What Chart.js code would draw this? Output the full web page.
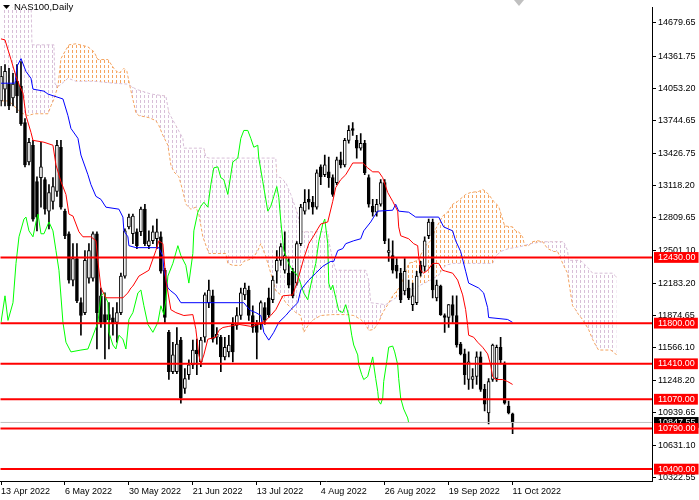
<!DOCTYPE html>
<html>
<head>
<meta charset="utf-8">
<title>NAS100,Daily</title>
<script src="https://cdn.jsdelivr.net/npm/chart.js@4.4.1/dist/chart.umd.min.js"></script>
<style>
  html, body { margin: 0; padding: 0; background: #fff; }
  #wrap { width: 699px; height: 500px; position: relative; }
</style>
</head>
<body>
<div id="wrap"><canvas id="myChart"></canvas></div>
<script>
//! Axis labels
const priceTicks = [14679.65, 14361.75, 14053.20, 13744.65, 13426.75, 13118.20, 12809.65,
  12501.10, 12183.20, 11874.65, 11566.10, 11248.20, 10939.65, 10631.10, 10322.55];
const levels = [12430, 11800, 11410, 11070, 10790, 10400];
const bidPrice = 10847.55;
const dateTicks = [0, 16, 32, 48, 64, 80, 96, 112, 128];
const dateLabels = ['13 Apr 2022', '6 May 2022', '30 May 2022', '21 Jun 2022', '13 Jul 2022',
  '4 Aug 2022', '26 Aug 2022', '19 Sep 2022', '11 Oct 2022'];

//! Candles (one per bar index)
const open = [13931,14044,14092,13959,14120,14073,13723,13346,13506,13157,
  13195,13176,12874,12968,13063,13487,12874,12657,12213,12420,
  11996,11901,12232,12232,12657,12062,11882,11882,11850,11807,
  11901,12251,12723,12657,12676,12676,12893,12543,12590,12609,
  12628,12307,11712,11335,11335,11637,11174,11306,11400,11542,
  11429,11665,11996,12062,11665,11665,11476,11524,11788,11778,
  11873,12071,12118,11873,11788,11788,11948,12043,12024,12298,
  12402,12307,12279,12298,12184,12562,12874,12987,12959,12912,
  13299,13223,13251,13195,13148,13365,13317,13553,13667,13553,
  13478,13525,13195,12921,12864,12940,13148,12477,12449,12354,
  12279,12109,12137,11977,11996,12354,12345,12638,12770,12043,
  12156,11873,11854,11977,11873,11599,11505,11259,11259,11288,
  11476,11165,10938,11259,11269,11569,11410,11004,10929];
const high = [14262,14280,14243,14195,14280,14309,13761,13572,13553,13204,
  13535,13195,13129,13195,13553,13553,12893,12676,12562,12562,
  12043,12496,12562,12676,12676,12137,12090,11996,11948,11996,
  12279,12704,12845,12845,12704,12912,12940,12685,12732,12798,
  12676,12326,11730,11617,11758,11665,11363,11448,11637,11646,
  11665,12090,12213,12118,11758,11684,11665,11684,11854,11948,
  12137,12184,12156,11967,11826,12014,11996,12137,12251,12496,
  12562,12676,12420,12326,12581,12940,13082,13082,13016,13270,
  13317,13412,13393,13223,13393,13440,13572,13695,13723,13601,
  13619,13553,13223,12987,12987,13176,13176,12609,12590,12420,
  12326,12420,12213,12184,12298,12392,12628,12798,12798,12213,
  12165,11890,11977,12062,12062,11617,11552,11524,11363,11524,
  11524,11212,11269,11599,11590,11665,11429,11052,10938];
const low = [13884,13884,13846,13884,13818,13695,13299,13317,12779,12685,
  12912,12845,12704,12893,13016,12893,12609,12184,12156,11996,
  11684,11882,12184,12203,11552,11758,11457,11552,11684,11617,
  11882,12232,12704,12562,12515,12638,12543,12515,12562,12515,
  12279,11807,11259,11316,11316,11033,11127,11259,11363,11306,
  11382,11617,11948,11617,11599,11335,11448,11476,11429,11740,
  11835,12024,11826,11712,11457,11740,11788,11854,11996,12184,
  12354,12279,12137,12043,12165,12543,12845,12893,12845,12893,
  13129,13204,13101,13016,13129,13289,13299,13525,13601,13383,
  13459,13223,12912,12827,12827,12921,12562,12392,12279,12232,
  11996,12071,12024,11920,11977,12251,12298,12609,12043,12014,
  11873,11712,11758,11807,11569,11495,11212,11165,11174,11212,
  11146,10957,10834,11240,11240,11410,11023,10929,10740];
const close = [14167,14214,13884,14092,13978,13714,13317,13535,12798,12817,
  13299,12893,13053,13110,13506,12912,12638,12213,12420,12014,
  11873,12402,12496,12657,11901,11807,11807,11830,11800,11901,
  12251,12685,12817,12827,12543,12893,12562,12590,12676,12676,
  12298,11854,11335,11495,11599,11080,11269,11400,11542,11505,
  11637,12071,12118,11646,11693,11476,11569,11590,11524,11873,
  12090,12137,11873,11758,11712,11996,11826,11882,12213,12402,
  12534,12449,12165,12062,12562,12912,12959,12959,12912,13242,
  13204,13317,13195,13034,13365,13317,13553,13648,13648,13478,
  13525,13242,12940,12864,12940,13148,12590,12496,12307,12298,
  12024,12298,12043,12062,12251,12279,12590,12770,12118,12165,
  11882,11854,11977,11873,11590,11505,11306,11429,11288,11476,
  11165,11023,11240,11590,11569,11448,11033,10938,10847.55];

//! Ichimoku lines as [bar, price]
const tenkan = [[0,14526],[1,14516],[2.5,14328],[3.75,14167],[4.5,14092],[5.5,14007],[6.25,13790],[7.5,13629],[8,13553],[10.75,13535],[13,13506],[13.75,13317],[15,13157],[16.25,13034],[17,12845],[18,12827],[19.5,12676],[20.5,12628],[22.5,12628],[23.75,12590],[24.25,12392],[25,12137],[26.25,12043],[30.5,12043],[31.75,12090],[32.5,12137],[33,12156],[34.5,12251],[37,12307],[38.75,12496],[39.5,12590],[40.5,12562],[41.25,12213],[42.5,11929],[43.75,11901],[45.75,11873],[48,11882],[48.75,11740],[49.5,11495],[50,11410],[50.75,11495],[51.75,11646],[53.75,11665],[54.5,11730],[55.5,11758],[57,11769],[59.5,11788],[62.5,11769],[64.5,11788],[66.25,11826],[67.5,11873],[68.75,11929],[70.5,12062],[73,12071],[74.25,12213],[75.75,12420],[77,12562],[78.25,12638],[79.25,12704],[80,12751],[81.75,12770],[83,12968],[83.75,13101],[85,13176],[86.25,13223],[88,13336],[90.5,13336],[91.75,13289],[93,13251],[94.5,13251],[95.5,13195],[96.75,13053],[98,12968],[99.25,12874],[99.5,12723],[100,12638],[102,12609],[103.25,12562],[104.25,12543],[104.5,12439],[105,12307],[105.75,12279],[106.75,12307],[108,12373],[109.5,12373],[110.5,12307],[111.25,12298],[113,12279],[114.25,12213],[115.5,12071],[116.25,11929],[116.75,11778],[117,11684],[118.25,11665],[119.25,11617],[120.5,11569],[121.75,11505],[122.5,11400],[123,11288],[123.75,11259],[125.5,11259],[126.75,11240],[128,11212]];
const kijun = [[0,14101],[3.5,14101],[4,14262],[5,14337],[6.25,14214],[7.5,14148],[8,14044],[10.75,14025],[11.75,13997],[13.25,13978],[15.5,13950],[16.75,13790],[17.5,13667],[19.25,13572],[20,13412],[21.75,13223],[22.5,13129],[23.75,13016],[25,12987],[26.25,12912],[29.5,12893],[30.5,12817],[30.75,12685],[31.75,12628],[32,12543],[33.75,12524],[39.5,12524],[40.5,12439],[40.75,12307],[41.75,12137],[42.5,12109],[43.75,12071],[45,11996],[60.75,11996],[61.75,11948],[62.5,11920],[63.75,11901],[65,11873],[65.75,11712],[67,11637],[68.25,11712],[69.5,11807],[71.25,11873],[72.5,11929],[74.25,11996],[75,12118],[77,12213],[78.75,12279],[80.5,12345],[82.5,12392],[83.25,12392],[84.25,12496],[85.5,12515],[86.25,12562],[88.25,12590],[90,12609],[90.75,12685],[92.5,12770],[93.25,12817],[94.25,12874],[98,12883],[98.75,12940],[99.5,12874],[102,12864],[103.75,12817],[109.5,12817],[110.75,12723],[113,12685],[113.75,12590],[115,12487],[116.25,12298],[117,12184],[119.5,12137],[120.75,12090],[121.75,11948],[122,11854],[126.75,11835],[128,11807]];
const chikou = [[0,11807],[1,12062],[1.75,11826],[3,11996],[3.75,12373],[4.5,12628],[5.75,12798],[6.25,12817],[7,12685],[8,12628],[8.75,12770],[9.25,12845],[10,12657],[10.75,12657],[12,12770],[13,12685],[13.75,12496],[14.5,12307],[15.5,11807],[16.25,11617],[17.5,11524],[20,11542],[21.75,11552],[24.25,11807],[25,12062],[25.75,12090],[26.75,11996],[27,11712],[28,11590],[28.75,11552],[29.5,11684],[30.5,11646],[31.25,11552],[32,11835],[33,11901],[34.25,12090],[35,12118],[35.75,11967],[36.75,11788],[38,11712],[39.25,11807],[40,11967],[40.75,11882],[41.25,12024],[41.75,12251],[43,12373],[44.25,12543],[45,12449],[46.25,12354],[47,12184],[48,12468],[48.25,12685],[49.25,12864],[50,12921],[50.75,12959],[51.75,12912],[52.5,13129],[53.25,13289],[54.25,13299],[55,13195],[55.75,13176],[56.75,13034],[57.5,13223],[58,13346],[59.25,13383],[60,13572],[60.75,13648],[61.75,13648],[62.5,13572],[63.25,13487],[64.25,13506],[64.5,13383],[65.5,13157],[66.75,12874],[67.5,12921],[68.25,13016],[69,13110],[69.5,13006],[70,12779],[70.75,12496],[71.75,12392],[73,12298],[73.75,12279],[74.5,12232],[75.75,12090],[76.75,12024],[77.5,12165],[78.75,12373],[79.5,12581],[80.5,12751],[81,12798],[81.75,12562],[82,12184],[82.5,12118],[83,12165],[83.75,12043],[84.5,11920],[85.5,11901],[86.25,11977],[87,11873],[87.75,11684],[88.25,11590],[89.25,11495],[89.5,11400],[90.25,11306],[90.75,11259],[91.75,11288],[92.25,11363],[93,11476],[93.25,11400],[93.75,11269],[94.25,11146],[94.5,11052],[95,11023],[95.5,11080],[95.75,11240],[96.5,11429],[97,11569],[98,11580],[98.5,11524],[99.25,11400],[99.5,11269],[100,11080],[100.75,10976],[101.75,10891],[102,10844]];
const senkouA = [[0,13931],[2,13931],[5,13818],[6.75,13790],[8.25,13808],[11.75,13808],[12.5,13884],[13.25,13950],[14.25,14073],[15,14337],[16.25,14422],[17,14469],[18.75,14479],[21.75,14450],[23.25,14403],[24.25,14328],[26.75,14328],[28.25,14243],[29.5,14195],[30.75,14243],[31.5,14214],[32.25,14073],[33.75,13818],[34.5,13790],[37,13771],[38.75,13742],[39.5,13695],[40.5,13601],[41.75,13506],[42.5,13317],[43.25,13251],[44.5,13204],[45.5,13063],[46.25,12940],[47.5,12893],[48.75,12912],[49.5,12845],[50.5,12628],[52,12468],[56.25,12468],[56.75,12373],[58,12354],[60,12354],[60.75,12392],[63,12420],[64.25,12496],[65,12562],[66.25,12439],[67.5,12279],[68.75,12109],[70,12071],[71.25,11996],[72.5,11948],[73.75,11901],[75,11873],[75.75,11712],[77,11788],[78.25,11835],[80,11873],[83,11882],[86.25,11882],[88.25,11873],[90,11835],[91.25,11788],[92,11730],[93.25,11740],[94.5,11807],[95.5,11901],[96.75,11977],[98,12062],[100,12156],[102,12373],[104.25,12402],[106.25,12543],[107.5,12590],[108.75,12704],[110.5,12827],[111.75,12864],[113,12940],[114.25,12968],[116.25,13034],[117.5,13053],[119.5,13063],[120.5,13082],[121.25,13063],[122,13034],[123.25,12968],[124.5,12921],[125.5,12798],[126,12732],[128,12723],[128.75,12685],[129.5,12676],[130.5,12628],[131,12543],[132,12543],[133,12581],[134.25,12590],[135.5,12581],[136.75,12515],[138.25,12487],[139.25,12487],[140,12420],[140.75,12354],[141.75,12279],[142.5,12090],[143,11967],[143.75,11929],[144.5,11882],[145.5,11835],[147,11740],[148,11646],[148.75,11590],[149.5,11542],[152.5,11542],[153.25,11524],[154,11495]];
const senkouB = [[0,14904],[7.5,14904],[7.75,14469],[13.25,14469],[13.5,14092],[14.5,14073],[16.75,14148],[18.75,14120],[23.25,14120],[28.25,14101],[31.75,14092],[33.75,14044],[37.5,13997],[41.25,13978],[42,13818],[43.75,13695],[45.5,13572],[45.75,13478],[50.75,13478],[51.25,13393],[52,13383],[68.75,13383],[69,13204],[70,13195],[71.25,13148],[72.5,13034],[74.25,12845],[75,12676],[81.75,12676],[82,12590],[83,12402],[83.75,12307],[91.25,12307],[92,12213],[92.5,11996],[96.25,11977],[99.5,12062],[104.5,12156],[107.5,12213],[109.5,12260],[111.25,12354],[113,12373],[123,12373],[123.75,12439],[125,12487],[127,12515],[130,12534],[132.5,12562],[135.75,12581],[140.75,12581],[141.75,12496],[142,12402],[145,12402],[145.75,12373],[147,12326],[148,12279],[153,12279],[153.75,12251],[154.25,12232]];
//! ---------------------------------

const ctx = document.getElementById('myChart').getContext('2d');
const FONT = 'Liberation Sans';

// vertical dotted hatch, one line per bar
function hatch(color) {
  const tile = document.createElement('canvas');
  tile.width = 4; tile.height = 5;
  const t = tile.getContext('2d');
  t.fillStyle = color;
  t.fillRect(0, 0, 1, 3);
  return ctx.createPattern(tile, 'repeat');
}
const orangeHatch = hatch('#F4A460');
const thistleHatch = hatch('#D8BFD8');

const pts = arr => arr.map(([x, y]) => ({ x, y }));
const isLevel = v => levels.includes(v);

const lineBase = { type: 'line', pointRadius: 0, borderWidth: 1, tension: 0, fill: false };

const datasets = [];
levels.forEach(v => {
  datasets.push({ ...lineBase, data: [{ x: -5, y: v }, { x: 200, y: v }], borderColor: '#FF0000', borderWidth: 2, order: 0 });
});
datasets.push({ ...lineBase, data: [{ x: -5, y: bidPrice }, { x: 200, y: bidPrice }], borderColor: '#C0C0C0', order: 1 });
datasets.push({ ...lineBase, data: pts(tenkan), borderColor: '#FF0000', order: 2 });
datasets.push({ ...lineBase, data: pts(kijun), borderColor: '#0000FF', order: 3 });
datasets.push({ ...lineBase, data: pts(chikou), borderColor: '#00FF00', order: 4 });
datasets.push({
  type: 'bar', grouped: false, order: 6, barThickness: 3, borderWidth: 1, borderSkipped: false,
  borderColor: '#000',
  backgroundColor: open.map((o, i) => (close[i] >= o ? '#FFFFFF' : '#000000')),
  data: open.map((o, i) => ({ x: i, y: [o, close[i]] }))
});
datasets.push({
  type: 'bar', grouped: false, order: 7, barThickness: 1, borderWidth: 0,
  backgroundColor: '#000',
  data: low.map((l, i) => ({ x: i, y: [l, high[i]] }))
});
const idxB = datasets.length + 1;
datasets.push({ ...lineBase, data: pts(senkouA), borderColor: '#F4A460', borderDash: [3, 2], order: 8,
  fill: { target: idxB, above: orangeHatch, below: thistleHatch } });
datasets.push({ ...lineBase, data: pts(senkouB), borderColor: '#D8BFD8', borderDash: [3, 2], order: 9 });

const overlay = {
  id: 'overlay',
  afterDraw(chart) {
    const c = chart.ctx;
    c.save();
    c.fillStyle = '#000';
    c.beginPath(); c.moveTo(3, 5); c.lineTo(10, 5); c.lineTo(6.5, 9); c.closePath(); c.fill();
    c.font = '9.5px "' + FONT + '"';
    c.textBaseline = 'middle';
    c.fillText('NAS100,Daily', 14, 7.5);
    c.fillStyle = '#C0C0C0';
    c.beginPath(); c.moveTo(514, 0); c.lineTo(524, 0); c.lineTo(519, 6); c.closePath(); c.fill();
    c.restore();
  }
};

const options = {
  responsive: true,
  maintainAspectRatio: false,
  devicePixelRatio: 1,
  animation: false,
  events: [],
  layout: { padding: 0 },
  plugins: { legend: { display: false }, tooltip: { enabled: false } },
  scales: {
    x: {
      type: 'linear', min: -0.125, max: 162.875, offset: false,
      afterBuildTicks: s => { s.ticks = dateTicks.map(v => ({ value: v })); },
      afterFit: s => { s.height = 19; },
      grid: { drawOnChartArea: false, drawTicks: true, tickLength: 4, color: '#000', offset: false },
      border: { color: '#000' },
      ticks: {
        autoSkip: false, maxRotation: 0, align: 'start', padding: 1, color: '#000',
        font: { family: FONT, size: 9 },
        callback: v => { const k = dateTicks.indexOf(v); return k >= 0 ? dateLabels[k] : ''; }
      }
    },
    y: {
      position: 'right', min: 10286, max: 14828,
      afterBuildTicks: s => {
        s.ticks = priceTicks.concat([bidPrice], levels).map(v => ({ value: v }));
      },
      afterFit: s => { s.width = 47; },
      grid: {
        drawOnChartArea: false, drawTicks: true, tickLength: 4,
        color: c => (c.tick && (isLevel(c.tick.value) || c.tick.value === bidPrice) ? 'rgba(0,0,0,0)' : '#000')
      },
      border: { color: '#000' },
      ticks: {
        autoSkip: false, padding: 2,
        font: { family: FONT, size: 9 },
        color: c => (isLevel(c.tick.value) || c.tick.value === bidPrice ? '#FFFFFF' : '#000000'),
        showLabelBackdrop: c => isLevel(c.tick.value) || c.tick.value === bidPrice,
        backdropColor: c => (c.tick.value === bidPrice ? '#000000' : '#FF0000'),
        backdropPadding: { left: 4, right: 3, top: 0, bottom: 0 },
        callback: v => Number(v).toFixed(2)
      }
    }
  }
};

const myChart = new Chart(ctx, { type: 'bar', data: { datasets }, options, plugins: [overlay] });
</script>
</body>
</html>
